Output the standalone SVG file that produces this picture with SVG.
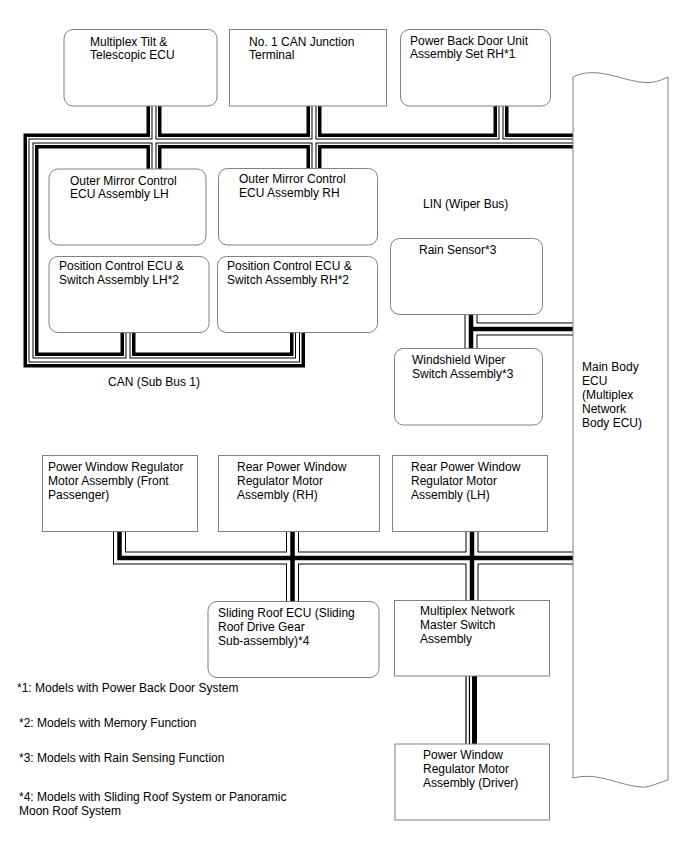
<svg xmlns="http://www.w3.org/2000/svg" xmlns:xlink="http://www.w3.org/1999/xlink" width="688" height="852" viewBox="0 0 688 852">
<style>
text{font-family:"Liberation Sans",Arial,sans-serif;font-size:12px;fill:#000}
.box{fill:#fff;stroke:#808080;stroke-width:1}
.k1{fill:none;stroke:#000;stroke-width:15}
.k2{fill:none;stroke:#fff;stroke-width:8}
.k3{fill:none;stroke:#000;stroke-width:5}
.k4{fill:none;stroke:#fff;stroke-width:3}
.l1{fill:none;stroke:#000;stroke-width:13}
.l2{fill:none;stroke:#fff;stroke-width:11}
.l3{fill:none;stroke:#000;stroke-width:4.5}
</style>
<defs>
<path id="can" d="M297.5,332 V360 H31 V141 H573 M128,332 V360 M154,106 V169 M314,106 V168 M501,106 V141"/>
<path id="lin" d="M471,314 V349 M471,329 H573"/>
<path id="pw" d="M119.5,531 V558 H573 M292.5,531 V602 M472,531 V601"/>
</defs>
<g id="connectors">
<use xlink:href="#can" class="k1"/>
<use xlink:href="#can" class="k2"/>
<use xlink:href="#can" class="k3"/>
<use xlink:href="#can" class="k4"/>
<use xlink:href="#lin" class="l1"/>
<use xlink:href="#lin" class="l2"/>
<use xlink:href="#lin" class="l3"/>
<use xlink:href="#pw" class="l1"/>
<use xlink:href="#pw" class="l2"/>
<use xlink:href="#pw" class="l3"/>
<path d="M466,676 V744 M469.5,676 V744" stroke="#000" stroke-width="1.2" fill="none"/>
<rect x="472" y="676" width="5" height="68" fill="#000"/>
</g>
<g id="main-body-ecu">
<path class="box" d="M573,77 C595,66 618,79 640,82 C654,84 661,80 668,77 V780 C655,784 648,788 640,787 C615,784 598,772 573,778 Z"/>
<text x="582" y="371">Main Body</text>
<text x="582" y="385">ECU</text>
<text x="582" y="399">(Multiplex</text>
<text x="582" y="413">Network</text>
<text x="582" y="427">Body ECU)</text>
</g>
<g id="multiplex-tilt">
<rect class="box" x="64" y="29.5" width="153" height="76.5" rx="9"/>
<text x="90" y="45.5">Multiplex Tilt &amp;</text>
<text x="90" y="59">Telescopic ECU</text>
</g>
<g id="can-junction">
<rect class="box" x="229.5" y="29.5" width="157" height="76.5"/>
<text x="249" y="45.5">No. 1 CAN Junction</text>
<text x="249" y="59">Terminal</text>
</g>
<g id="power-back-door">
<rect class="box" x="400.5" y="29.5" width="150" height="76.5" rx="9"/>
<text x="410" y="44.5">Power Back Door Unit</text>
<text x="410" y="58">Assembly Set RH*1</text>
</g>
<g id="outer-mirror-lh">
<rect class="box" x="49" y="169" width="157" height="76" rx="9"/>
<text x="70" y="184.5">Outer Mirror Control</text>
<text x="70" y="198">ECU Assembly LH</text>
</g>
<g id="outer-mirror-rh">
<rect class="box" x="218.5" y="168.5" width="159" height="76.5" rx="9"/>
<text x="239" y="183">Outer Mirror Control</text>
<text x="239" y="196.5">ECU Assembly RH</text>
</g>
<g id="position-lh">
<rect class="box" x="49" y="256.5" width="160" height="76" rx="9"/>
<text x="59" y="270">Position Control ECU &amp;</text>
<text x="59" y="284">Switch Assembly LH*2</text>
</g>
<g id="position-rh">
<rect class="box" x="217.5" y="256.5" width="160" height="76" rx="9"/>
<text x="227" y="270">Position Control ECU &amp;</text>
<text x="227" y="284">Switch Assembly RH*2</text>
</g>
<text id="can-label" x="108" y="386">CAN (Sub Bus 1)</text>
<text id="lin-label" x="423" y="208">LIN (Wiper Bus)</text>
<g id="rain-sensor">
<rect class="box" x="390.5" y="238.5" width="152" height="76" rx="9"/>
<text x="419" y="254">Rain Sensor*3</text>
</g>
<g id="wiper-switch">
<rect class="box" x="394.5" y="348.5" width="148" height="76.5" rx="9"/>
<text x="412" y="364">Windshield Wiper</text>
<text x="412" y="377.5">Switch Assembly*3</text>
</g>
<g id="pw-front-passenger">
<rect class="box" x="42.5" y="455.5" width="155" height="76"/>
<text x="48" y="471">Power Window Regulator</text>
<text x="48" y="485">Motor Assembly (Front</text>
<text x="48" y="499">Passenger)</text>
</g>
<g id="pw-rear-rh">
<rect class="box" x="218.5" y="455.5" width="161" height="76"/>
<text x="237" y="471">Rear Power Window</text>
<text x="237" y="485">Regulator Motor</text>
<text x="237" y="499">Assembly (RH)</text>
</g>
<g id="pw-rear-lh">
<rect class="box" x="392.5" y="455.5" width="155" height="76"/>
<text x="411" y="471">Rear Power Window</text>
<text x="411" y="485">Regulator Motor</text>
<text x="411" y="499">Assembly (LH)</text>
</g>
<g id="sliding-roof">
<rect class="box" x="208" y="601.5" width="171" height="76" rx="9"/>
<text x="218" y="617">Sliding Roof ECU (Sliding</text>
<text x="218" y="631">Roof Drive Gear</text>
<text x="218" y="645">Sub-assembly)*4</text>
</g>
<g id="master-switch">
<rect class="box" x="394.5" y="600.5" width="155" height="75.5"/>
<text x="420" y="614.5">Multiplex Network</text>
<text x="420" y="628.5">Master Switch</text>
<text x="420" y="642.5">Assembly</text>
</g>
<g id="pw-driver">
<rect class="box" x="395" y="744" width="154.5" height="76"/>
<text x="423" y="758.5">Power Window</text>
<text x="423" y="772.5">Regulator Motor</text>
<text x="423" y="786.5">Assembly (Driver)</text>
</g>
<g id="footnotes">
<text x="17" y="692">*1: Models with Power Back Door System</text>
<text x="19" y="727">*2: Models with Memory Function</text>
<text x="19" y="762">*3: Models with Rain Sensing Function</text>
<text x="19" y="801">*4: Models with Sliding Roof System or Panoramic</text>
<text x="19" y="815">Moon Roof System</text>
</g>
</svg>
